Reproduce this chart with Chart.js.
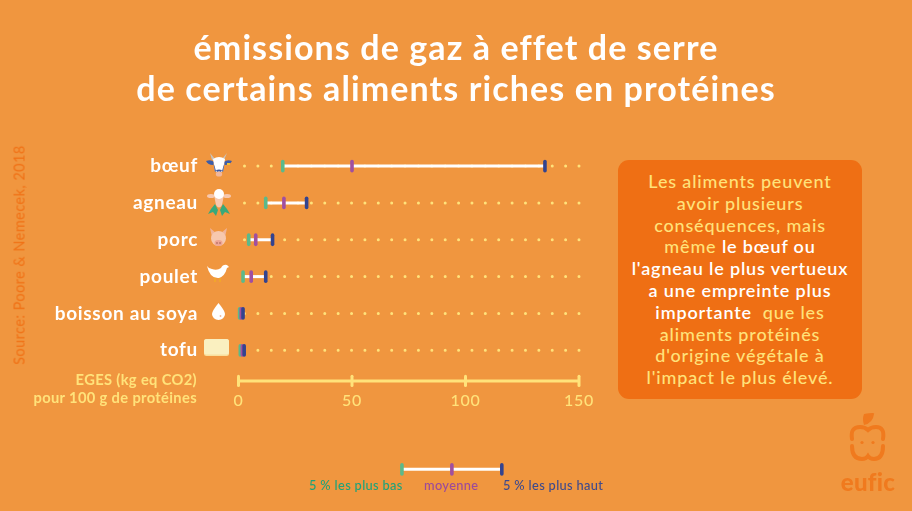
<!DOCTYPE html>
<html lang="fr"><head><meta charset="utf-8">
<script src="https://cdn.jsdelivr.net/npm/chart.js@4"></script>
<style>
html,body{margin:0;padding:0;background:#F0963F;overflow:hidden}
#wrap{position:relative;width:912px;height:511px;background:#F0963F;font-family:Lato,sans-serif}
#wrap canvas{position:absolute;left:0;top:0}
.t{position:absolute;white-space:nowrap}
#title{left:0;width:912px;top:27px;text-align:center;color:#fff;font-weight:700;font-size:34px;line-height:40.5px;letter-spacing:1.1px}
#panel{position:absolute;left:618px;top:160px;width:244px;height:239px;border-radius:11px;background:#EF6F14;color:#FFE27A;text-align:center;font-size:18px;font-weight:500;line-height:21.8px;letter-spacing:.85px;padding-top:11px;box-sizing:border-box;white-space:nowrap}
#panel b{color:#fff;font-weight:600}
#eges{left:0;width:197px;text-align:right;top:370px;color:#FFE27A;font-weight:700;font-size:14.7px;line-height:18px;letter-spacing:.35px}
#src{left:19px;top:255px;transform:translate(-50%,-50%) rotate(-90deg);color:#F07014;font-size:14.5px;letter-spacing:.45px}
.k{top:477px;font-size:12.8px;font-weight:500;letter-spacing:.35px}
svg{position:absolute;overflow:visible}
#eufic{left:868px;top:467px;transform:translateX(-50%);color:#F07A1E;font-weight:900;font-size:24px;letter-spacing:.3px}
</style></head><body>
<div id="wrap">
<canvas id="c" width="912" height="511" style="width:912px;height:511px"></canvas>
<div class="t" id="title">émissions de gaz à effet de serre<br>de certains aliments riches en protéines</div>
<div id="panel">Les aliments peuvent<br>avoir plusieurs<br>conséquences, mais<br>même <b>le bœuf ou<br>l'agneau le plus vertueux<br>a une empreinte plus<br>importante</b>&nbsp; que les<br>aliments protéinés<br>d'origine végétale à<br>l'impact le plus élevé.</div>
<div class="t" id="eges">EGES (kg eq CO2)<br>pour 100 g de protéines</div>
<div class="t" id="src">Source: Poore &amp; Nemecek, 2018</div>
<div class="t k" style="left:309px;color:#1FA37A">5 % les plus bas</div>
<div class="t k" style="left:424px;color:#9B4A9B">moyenne</div>
<div class="t k" style="left:503px;color:#3F4A8C">5 % les plus haut</div>

<!-- cow -->
<svg style="left:205px;top:153px" width="28" height="25" viewBox="0 0 28 25">
<path d="M5 0 L7 7 L10 6 Z M22 0 L19 7 L17 6 Z" fill="#C9C4BC"/>
<path d="M1 8 Q6 6 9 9 L8 12 Q3 12 1 8Z M27 8 Q22 6 19 9 L20 12 Q25 12 27 8Z" fill="#3C5CA8"/>
<path d="M8 6 Q14 2 20 6 L18 18 Q14 21 10 18Z" fill="#fff"/>
<path d="M8 8 L11 18 L10 19Z M20 8 L17 18 L18 19Z" fill="#3C5CA8"/>
<path d="M11 17 Q14 16 17 17 L16 19 Q14 18 12 19Z" fill="#3C5CA8"/>
<ellipse cx="14" cy="21" rx="3.2" ry="2.6" fill="#F2B79A"/>
<rect x="22" y="10" width="3" height="2" fill="#F2C230"/>
</svg>
<!-- lamb -->
<svg style="left:207px;top:189px" width="24" height="28" viewBox="0 0 24 28">
<path d="M4 20 L1 25 L6 23 L9 27 L11 21 L8 15Z M20 20 L23 25 L18 23 L15 27 L13 21 L16 15Z" fill="#38A97A"/>
<ellipse cx="4" cy="7" rx="4" ry="2" fill="#F7C8AE"/><ellipse cx="20" cy="7" rx="4" ry="2" fill="#F7C8AE"/>
<path d="M7 6 H17 L15 16 Q12 21 9 16Z" fill="#F7C8AE"/>
<circle cx="12" cy="5" r="5" fill="#fff"/>
</svg>
<!-- pig -->
<svg style="left:209px;top:228px" width="19" height="21" viewBox="0 0 19 21">
<path d="M1 0 L7 5 L3 9Z M18 0 L12 5 L16 9Z" fill="#F0B49A"/>
<circle cx="9.5" cy="10.5" r="7.5" fill="#F7C8AE"/>
<ellipse cx="9.5" cy="15" rx="4" ry="3" fill="#EFA595"/>
<circle cx="8" cy="15" r=".8" fill="#9B5A4E"/><circle cx="11" cy="15" r=".8" fill="#9B5A4E"/>
</svg>
<!-- chicken -->
<svg style="left:207px;top:264px" width="23" height="22" viewBox="0 0 23 22">
<path d="M0 2 Q2 5 5 5 Q10 7 14 4 Q16 0 20 1 L22 3 L20 4 Q18 12 12 14 Q3 15 0 2Z" fill="#fff"/>
<path d="M8 14 V18 M13 14 V18" stroke="#F2B020" stroke-width="1.2"/>
</svg>
<!-- drop -->
<svg style="left:212px;top:303px" width="13" height="17" viewBox="0 0 13 17">
<path d="M6.5 0 Q13 8 13 11 A6.5 6 0 0 1 0 11 Q0 8 6.5 0Z" fill="#fff"/>
<circle cx="8.5" cy="13" r=".9" fill="#F2B79A"/>
</svg>
<!-- tofu -->
<svg style="left:204px;top:339px" width="25" height="18" viewBox="0 0 25 18">
<rect width="25" height="17" rx="2.5" fill="#F9DF9C"/><rect width="25" height="15.5" rx="2.5" fill="#FAF0C0"/>
</svg>
<!-- logo -->
<svg style="left:848px;top:413px" width="40" height="55" viewBox="0 0 40 55" fill="none" stroke="#F07A1E" stroke-width="4" stroke-linecap="round">
<path d="M13 1 Q25 -1 23 1 Q22 10 13 12 Q11 6 13 1Z" transform="translate(3 0)" fill="#F07A1E" stroke="none"/>
<path d="M4 26 Q2 14 12 14 Q17 14 20 17 Q23 14 28 14 Q37 14 35 26"/>
<path d="M4 33 Q4 46 14 46 Q18 46 20 43 Q22 46 26 46 Q35 46 35 33"/>
<circle cx="14" cy="29.5" r="1.6" fill="#F07A1E" stroke="none"/><circle cx="25" cy="29.5" r="1.6" fill="#F07A1E" stroke="none"/>
</svg>
<div class="t" id="eufic">eufic</div>
</div>
<script>
const categories = ['bœuf','agneau','porc','poulet','boisson au soya','tofu'];
const lowValues  = [19.5, 12, 4.5, 2, 0.5, 0.8];
const meanValues = [50, 20, 7.6, 5.6, 1.2, 1.7];
const highValues = [135, 30, 15, 12, 2, 2.5];
const axisTicks = [0, 50, 100, 150];
const axisRow = 5.83;
const keyRow = 8.23;
const keyValues = [72, 94, 116];

const YELLOW='#FFE27A', WHITE='#FFFFFF', GREEN='#5BB98B', PURPLE='#A04FA0', NAVY='#33438F';
const pts = (vals, ys) => vals.map((x,i)=>({x, y: Array.isArray(ys)?ys[i]:ys}));
const rows = categories.map((_,i)=>i);
const marks = (data,color)=>({data,showLine:false,pointStyle:'line',pointRadius:4.6,pointRotation:90,pointBorderWidth:3.6,pointBorderColor:color,pointBackgroundColor:color,borderColor:color,clip:false});
const seg = (data,color,w)=>({data,borderColor:color,borderWidth:w,pointRadius:0,clip:false});

const datasets = [
  marks(pts(highValues,rows),NAVY),
  marks(pts(meanValues,rows),PURPLE),
  marks(pts(lowValues,rows),GREEN),
  marks([{x:keyValues[2],y:keyRow}],NAVY),
  marks([{x:keyValues[1],y:keyRow}],PURPLE),
  marks([{x:keyValues[0],y:keyRow}],GREEN),
  seg(keyValues.map(x=>({x,y:keyRow})),WHITE,3),
];
rows.forEach(i=>datasets.push(seg([{x:lowValues[i],y:i},{x:highValues[i],y:i}],WHITE,3)));
rows.forEach(i=>datasets.push({data:[{x:150,y:i},{x:0,y:i}],borderColor:YELLOW,borderWidth:3,borderDash:[0,13.38],borderCapStyle:'round',pointRadius:0,clip:false}));
datasets.push({data:axisTicks.map(x=>({x,y:axisRow})),borderColor:YELLOW,borderWidth:3,pointStyle:'line',pointRadius:4.6,pointRotation:90,pointBorderWidth:3,pointBorderColor:YELLOW,clip:false});

const roundCaps={id:'roundCaps',
  beforeDraw(c){c.ctx.letterSpacing='0.7px';},
  beforeDatasetsDraw(c){c.ctx.save();c.ctx.lineCap='round';},
  afterDatasetsDraw(c){c.ctx.restore();}};

new Chart(document.getElementById('c'),{
  type:'line',
  data:{datasets},
  plugins:[roundCaps],
  options:{
    responsive:false,animation:false,devicePixelRatio:1,
    layout:{padding:{top:147.65,right:333,bottom:0,left:0}},
    plugins:{legend:{display:false},tooltip:{enabled:false},title:{display:false}},
    scales:{
      x:{type:'linear',min:0,max:150,position:{y:axisRow},
        grid:{display:false},border:{display:false},
        ticks:{stepSize:50,color:YELLOW,padding:2,maxRotation:0,font:{family:'Lato',size:16,weight:'500'}},
        afterBuildTicks(s){s.ticks=axisTicks.map(value=>({value}));},
        afterFit(s){s.height=0;}},
      y:{type:'linear',reverse:true,min:-0.5,max:8.17,
        grid:{display:false},border:{display:false},
        afterBuildTicks(s){s.ticks=rows.map(value=>({value}));},
        afterFit(s){s.width=238.5;},
        ticks:{autoSkip:false,color:WHITE,padding:32.5,font:{family:'Lato',size:19,weight:'700'},
          callback:v=>categories[v]??''}}
    }
  }
});
</script>
</body></html>
